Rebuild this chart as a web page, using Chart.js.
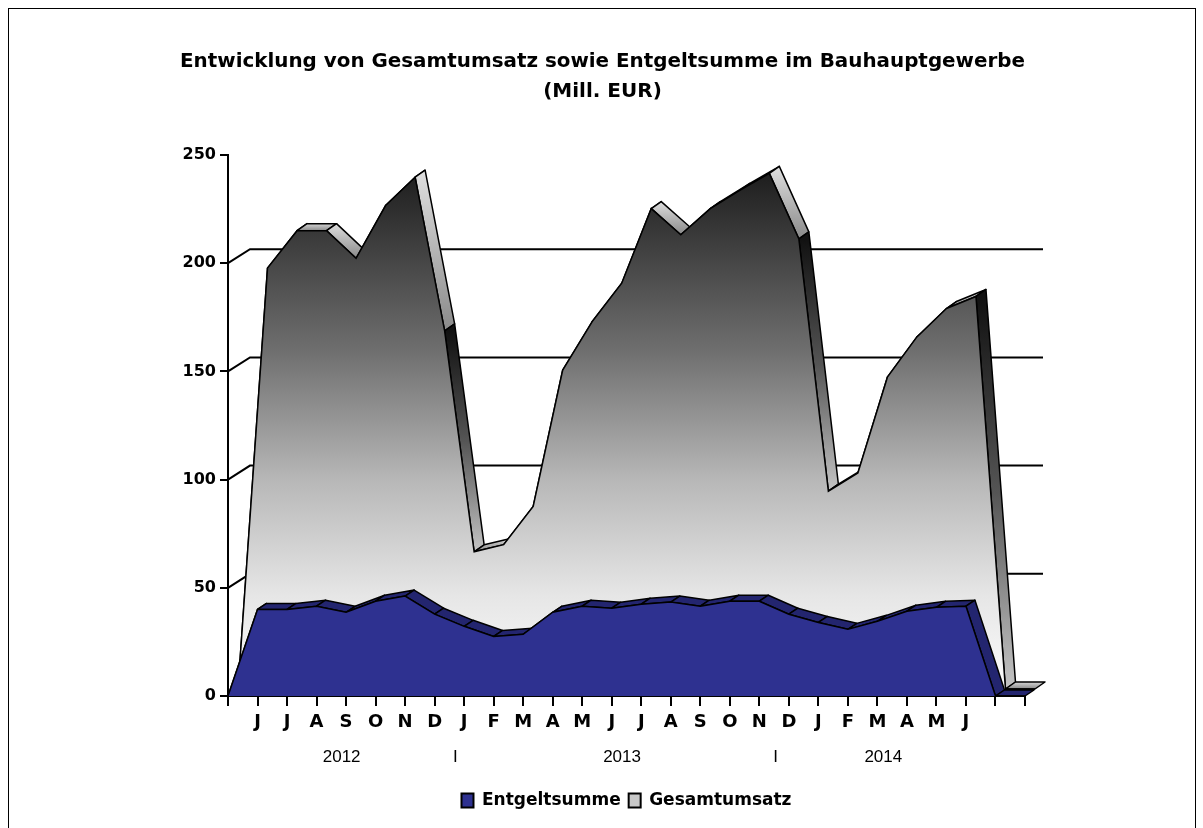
<!DOCTYPE html>
<html>
<head>
<meta charset="utf-8">
<script src="https://cdn.jsdelivr.net/npm/chart.js@4.4.0/dist/chart.umd.min.js"></script>
<style>
  html, body { margin: 0; padding: 0; background: #fff; }
  #frame { position: absolute; left: 8px; top: 8px; width: 1186px; height: 840px; border: 1px solid #000; }
  #wrap { position: absolute; left: 0; top: 0; width: 1203px; height: 828px; }
</style>
</head>
<body>
<div id="frame"></div>
<div id="wrap"><canvas id="chart"></canvas></div>
<script>
// Monatswerte Juni 2012 - Juni 2014 (Mill. EUR), mit Nullpunkten an den Rändern
const months = ['', 'J', 'J', 'A', 'S', 'O', 'N', 'D', 'J', 'F', 'M', 'A', 'M',
    'J', 'J', 'A', 'S', 'O', 'N', 'D', 'J', 'F', 'M', 'A', 'M', 'J', '', ''];
const entgeltsumme = [0, 40, 40, 41.5, 38.7, 43.8, 46.2, 37.8, 32.2, 27.5, 28.5, 38.7, 41.5,
    40.6, 42.4, 43.4, 41.5, 43.8, 43.8, 37.8, 34, 30.8, 34.5, 39.2, 41, 41.5, 0, 0];
const gesamtumsatz = [0, 194.5, 211.8, 211.8, 199, 223.4, 236.5, 165.5, 63.4, 66.7, 84.4, 147.4, 169.8,
    187.5, 222, 209.9, 222, 230.4, 238.3, 208, 91.4, 99.8, 144.1, 162.7, 175.8, 181.4, 0, 0];
const years = ['2012', 'I', '2013', 'I', '2014'];

const fontFamily = 'Arial, "Liberation Sans", sans-serif';
const boldFamily = '"DejaVu Sans", Verdana, sans-serif';

// 3D-Versatz je Datenreihe: [Verschiebung x, y, Tiefe x, y]
const depth = [[0, 0, 9, -6], [10, -7, 10, -7]];

function grayFill(chart) {
    const y = chart.scales.y;
    const g = chart.ctx.createLinearGradient(0, y.getPixelForValue(240), 0, y.getPixelForValue(0));
    g.addColorStop(0, '#1c1c1c');
    g.addColorStop(0.35, '#6f6f6f');
    g.addColorStop(0.6, '#b8b8b8');
    g.addColorStop(0.82, '#e6e6e6');
    g.addColorStop(1, '#fbfbfb');
    return g;
}

const depthPlugin = {
    id: 'depth3d',
    beforeDatasetsDraw(chart) {
        // Rückwand-Gitterlinien
        const ctx = chart.ctx;
        const x = chart.scales.x, y = chart.scales.y;
        ctx.save();
        ctx.strokeStyle = '#000';
        ctx.lineWidth = 2;
        [50, 100, 150, 200].forEach(v => {
            const py = y.getPixelForValue(v);
            ctx.beginPath();
            ctx.moveTo(x.left, py);
            ctx.lineTo(x.left + 22, py - 14);
            ctx.lineTo(x.right + 18, py - 14);
            ctx.stroke();
        });
        ctx.restore();
    },
    beforeDatasetDraw(chart, args) {
        const ctx = chart.ctx;
        const d = depth[args.index];
        const pts = args.meta.data;
        const base = chart.scales.y.getPixelForValue(0);
        const ds = chart.data.datasets[args.index].data;
        ctx.save();
        ctx.translate(d[0], d[1]);
        ctx.lineWidth = 1.5;
        ctx.strokeStyle = '#000';
        ctx.lineJoin = 'round';
        // Oberseiten / Seitenflächen
        for (let i = 0; i < pts.length - 1; i++) {
            const a = pts[i], b = pts[i + 1];
            ctx.beginPath();
            ctx.moveTo(a.x, a.y);
            ctx.lineTo(b.x, b.y);
            ctx.lineTo(b.x + d[2], b.y + d[3]);
            ctx.lineTo(a.x + d[2], a.y + d[3]);
            ctx.closePath();
            if (args.index === 0) {
                ctx.fillStyle = '#23256f';
            } else {
                const drop = ds[i] - ds[i + 1];
                if (drop > 80) {
                    const g = ctx.createLinearGradient(0, a.y, 0, b.y);
                    g.addColorStop(0, '#111');
                    g.addColorStop(0.5, '#555');
                    g.addColorStop(1, '#c4c4c4');
                    ctx.fillStyle = g;
                } else {
                    const g = ctx.createLinearGradient(0, Math.min(a.y, b.y) - 8, 0, Math.max(a.y, b.y));
                    g.addColorStop(0, '#e0e0e0');
                    g.addColorStop(1, '#8a8a8a');
                    ctx.fillStyle = g;
                }
            }
            ctx.fill();
            ctx.stroke();
        }
        // Vorderfläche
        ctx.beginPath();
        ctx.moveTo(pts[0].x, base);
        pts.forEach(p => ctx.lineTo(p.x, p.y));
        ctx.lineTo(pts[pts.length - 1].x, base);
        ctx.closePath();
        ctx.fillStyle = args.index === 0 ? '#2e3190' : grayFill(chart);
        ctx.fill();
        // bleibt verschoben für die Linie des Datensatzes
    },
    afterDatasetDraw(chart) {
        chart.ctx.restore();
    },
    afterDraw(chart) {
        // Jahresbeschriftung unter den Monaten
        const ctx = chart.ctx;
        const x = chart.scales.x;
        const at = [3.85, 7.7, 13.35, 18.55, 22.2];
        ctx.save();
        ctx.font = '17px ' + fontFamily;
        ctx.fillStyle = '#000';
        ctx.textAlign = 'center';
        ctx.textBaseline = 'middle';
        years.forEach((t, i) => ctx.fillText(t, x.getPixelForValue(at[i]), 757));
        ctx.restore();
    }
};

new Chart(document.getElementById('chart'), {
    type: 'line',
    data: {
        labels: months,
        datasets: [{
            label: 'Entgeltsumme',
            data: entgeltsumme,
            borderColor: '#000',
            borderWidth: 1.5,
            backgroundColor: '#2e3190',
            fill: false,
            pointRadius: 0,
            tension: 0,
            clip: false
        }, {
            label: 'Gesamtumsatz',
            data: gesamtumsatz,
            borderColor: '#000',
            borderWidth: 1.5,
            backgroundColor: '#c8c8c8',
            fill: false,
            pointRadius: 0,
            tension: 0,
            clip: false
        }]
    },
    options: {
        responsive: true,
        maintainAspectRatio: false,
        animation: false,
        layout: { padding: { left: 180, right: 178, top: 0, bottom: 9 } },
        plugins: {
            title: {
                display: true,
                text: ['Entwicklung von Gesamtumsatz sowie Entgeltsumme im Bauhauptgewerbe', '(Mill. EUR)'],
                color: '#000',
                font: { family: boldFamily, size: 20, weight: 'bold', lineHeight: 1.5 },
                padding: { top: 47, bottom: 48 }
            },
            legend: {
                position: 'bottom',
                fullSize: false,
                labels: {
                    color: '#000',
                    font: { family: boldFamily, size: 17, weight: 'bold' },
                    boxWidth: 12,
                    boxHeight: 14,
                    padding: 8,
                    generateLabels(chart) {
                        return chart.data.datasets.map((ds, i) => ({
                            text: ds.label,
                            fillStyle: ds.backgroundColor,
                            strokeStyle: '#000',
                            lineWidth: 2,
                            datasetIndex: i
                        }));
                    }
                }
            },
            tooltip: { enabled: false }
        },
        scales: {
            x: {
                offset: false,
                grid: { display: true, drawOnChartArea: false, color: '#000', lineWidth: 2, tickLength: 10 },
                border: { color: '#000', width: 2 },
                ticks: {
                    color: '#000',
                    font: { family: boldFamily, size: 18, weight: 'bold' },
                    maxRotation: 0,
                    autoSkip: false,
                    padding: 6
                },
                afterFit(scale) { scale.height = 88; }
            },
            y: {
                min: 0,
                max: 250,
                ticks: {
                    stepSize: 50,
                    color: '#000',
                    font: { family: boldFamily, size: 16, weight: 'bold' },
                    padding: 4
                },
                grid: { display: true, drawOnChartArea: false, color: '#000', lineWidth: 2, tickLength: 8 },
                border: { color: '#000', width: 2 },
                afterFit(scale) { scale.width = 48; }
            }
        }
    },
    plugins: [depthPlugin]
});
</script>
</body>
</html>
